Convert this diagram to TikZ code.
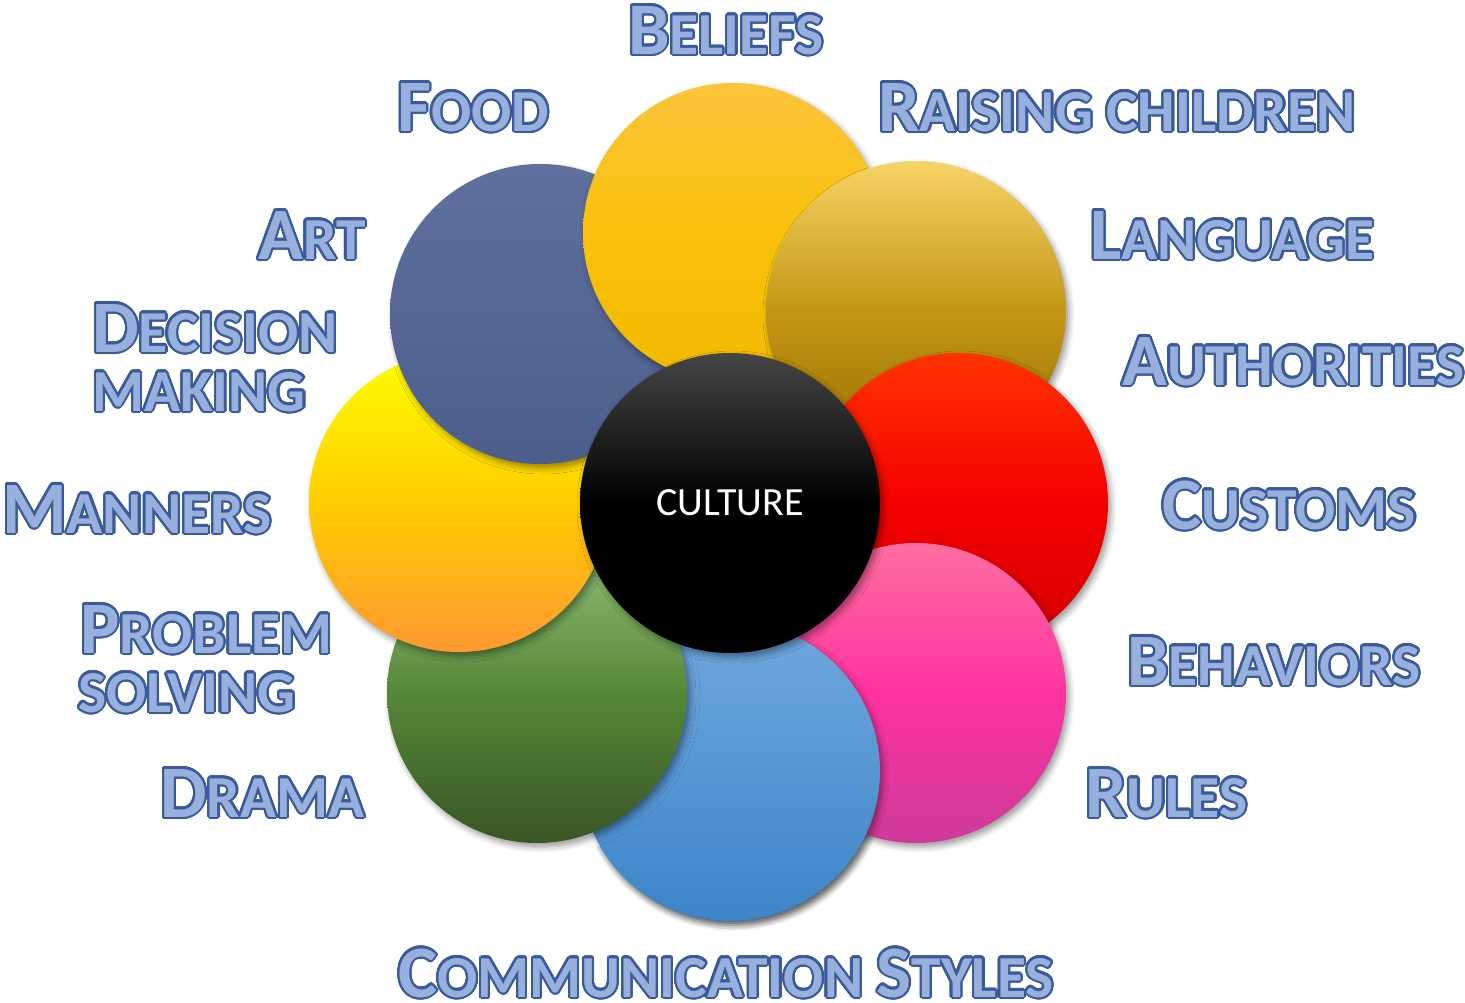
\documentclass[tikz,border=0pt]{standalone}
\usepackage{fontspec}
\setmainfont{Carlito}
\usepackage[copies]{contour}
\usetikzlibrary{shadows.blur}
\contourlength{2.2pt}
\contournumber{28}
\definecolor{lblfill}{HTML}{98B0DC}
\definecolor{lblline}{HTML}{3A5A9C}
\newcommand\LgCap[1]{{\fontsize{74}{74}\selectfont #1}}
\newcommand\SmCap[1]{{\fontsize{59.5}{60}\selectfont #1}}
\newcommand\Out[1]{\contour{lblline}{#1}}
\newcommand\Lbl[2]{\Out{\LgCap{#1}\SmCap{#2}}}
\tikzset{
  petal/.style={circle, inner sep=0pt, minimum size=300pt,
    blur shadow={shadow xshift=3pt, shadow yshift=-4pt, shadow blur radius=6pt, shadow opacity=40}},
  lab/.style={inner sep=0pt, anchor=base west, text=lblfill, font=\bfseries},
}
\begin{document}
\begin{tikzpicture}[x=1pt,y=-1pt]
\useasboundingbox (0,0) rectangle (1465,1002);
% petals, bottom to top
\node[petal, top color={rgb,255:red,112;green,168;blue,222}, bottom color={rgb,255:red,61;green,133;blue,200}] (cb) at (730,771) {};
\node[petal, top color={rgb,255:red,147;green,192;blue,122}, bottom color={rgb,255:red,58;green,86;blue,38}, middle color={rgb,255:red,85;green,135;blue,55}] (cg) at (537,693) {};
\node[petal, top color={rgb,255:red,255;green,255;blue,0}, bottom color={rgb,255:red,255;green,152;blue,50}, middle color={rgb,255:red,255;green,205;blue,0}] (cy) at (459,502) {};
\node[petal, top color={rgb,255:red,96;green,112;blue,158}, bottom color={rgb,255:red,78;green,94;blue,138}] (cn) at (540,314) {};
\node[petal, top color={rgb,255:red,252;green,196;blue,58}, bottom color={rgb,255:red,240;green,186;blue,0}, middle color={rgb,255:red,248;green,194;blue,10}] (co) at (733,233) {};
\node[petal, top color={rgb,255:red,246;green,212;blue,102}, bottom color={rgb,255:red,150;green,110;blue,0}, middle color={rgb,255:red,196;green,150;blue,20}] (cl) at (916,311) {};
\node[petal, top color={rgb,255:red,255;green,52;blue,0}, bottom color={rgb,255:red,210;green,0;blue,0}, middle color={rgb,255:red,245;green,0;blue,0}] (cr) at (958,503) {};
\node[petal, top color={rgb,255:red,255;green,110;blue,160}, bottom color={rgb,255:red,205;green,58;blue,155}, middle color={rgb,255:red,255;green,50;blue,160}] (cp) at (916,693) {};
% blue again, over pink, but kept under green and its shadow
\begin{scope}[even odd rule]
  \clip (0,0) rectangle (1465,1002) ([shift={(3,4)}]cg.center) circle[radius=160];
  \path[blur shadow={shadow xshift=3pt, shadow yshift=-4pt, shadow blur radius=6pt, shadow opacity=40},
        top color={rgb,255:red,112;green,168;blue,222}, bottom color={rgb,255:red,61;green,133;blue,200}]
        (cb.center) circle[radius=150];
\end{scope}
% center
\node[petal, top color={rgb,255:red,70;green,70;blue,70}, bottom color=black, middle color=black,
      text=white, font=\fontsize{40}{40}\selectfont] (cc) at (730,503) {CULTURE};
% labels
\node[lab] (l1) at (628,54) {\Lbl{B}{ELIEFS}};
\node[lab] (l2) at (397,131) {\Lbl{F}{OOD}};
\node[lab] (l3) at (878,131) {\Lbl{R}{AISING CHILDREN}};
\node[lab] (l4) at (258,259) {\Lbl{A}{RT}};
\node[lab] (l5) at (1090,259) {\Lbl{L}{ANGUAGE}};
\node[lab] (l6) at (92,352) {\Lbl{D}{ECISION}};
\node[lab] (l6b) at (92,411) {\Out{\SmCap{MAKING}}};
\node[lab] (l7) at (1122,385) {\Lbl{A}{UTHORITIES}};
\node[lab] (l8) at (2,533) {\Lbl{M}{ANNERS}};
\node[lab] (l9) at (1162,529) {\Lbl{C}{USTOMS}};
\node[lab] (l10) at (80,653) {\Lbl{P}{ROBLEM}};
\node[lab] (l10b) at (78,712) {\Out{\SmCap{SOLVING}}};
\node[lab] (l11) at (1127,685) {\Lbl{B}{EHAVIORS}};
\node[lab] (l12) at (160,817) {\Lbl{D}{RAMA}};
\node[lab] (l13) at (1085,817) {\Lbl{R}{ULES}};
\node[lab] (l14) at (398,997) {\Out{\LgCap{C}\SmCap{OMMUNICATION }\LgCap{S}\SmCap{TYLES}}};
\end{tikzpicture}
\end{document}
